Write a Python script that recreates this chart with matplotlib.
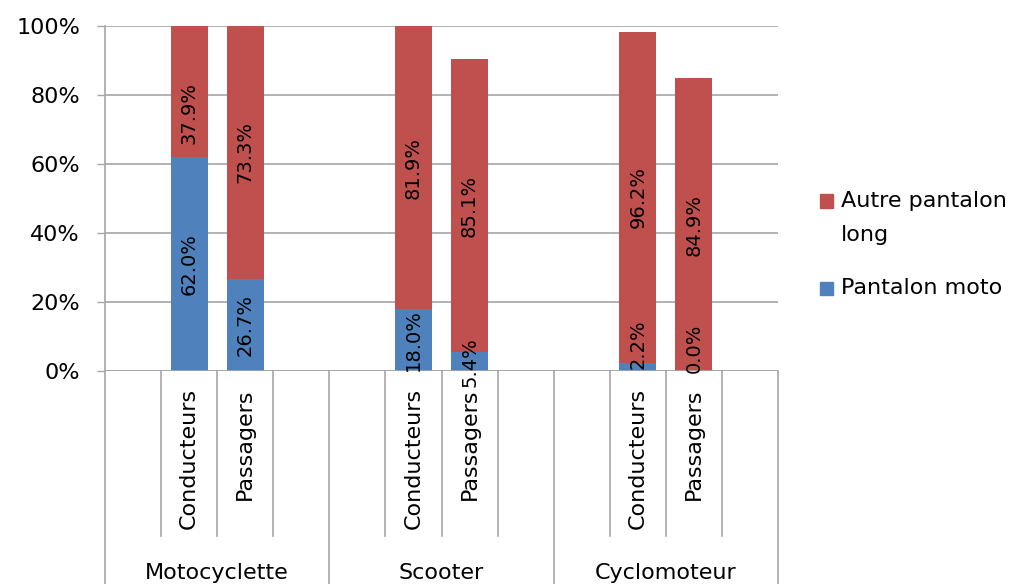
import matplotlib
matplotlib.use("Agg")
import matplotlib.pyplot as plt
from matplotlib.patches import Rectangle
from matplotlib.ticker import FuncFormatter
import matplotlib.transforms as mtransforms

# Vehicle groups and rider roles
groups = ["Motocyclette", "Scooter", "Cyclomoteur"]
roles = ["Conducteurs", "Passagers"]

# Share of riders (%) per group/role, in order:
# Moto-Conducteurs, Moto-Passagers, Scooter-Conducteurs, Scooter-Passagers,
# Cyclo-Conducteurs, Cyclo-Passagers
pantalon_moto = [62.0, 26.7, 18.0, 5.4, 2.2, 0.0]
autre_pantalon = [37.9, 73.3, 81.9, 85.1, 96.2, 84.9]

series_names = ["Autre pantalon\nlong", "Pantalon moto"]
yticks = [0, 20, 40, 60, 80, 100]

RED = "#C0504D"
BLUE = "#4F81BD"
GRID = "#A6A6A6"

W, H = 1016, 584
fig = plt.figure(figsize=(W / 100, H / 100), dpi=100)

# plot area in pixels
x0, x1, ytop, ybot = 105, 778, 26, 371
ax = fig.add_axes([x0 / W, 1 - ybot / H, (x1 - x0) / W, (ybot - ytop) / H])

slots_per_group = len(roles) + 2
n_slots = slots_per_group * len(groups)
ax.set_xlim(0, n_slots)
ax.set_ylim(0, 100)

positions = []
for g in range(len(groups)):
    for r in range(len(roles)):
        positions.append(g * slots_per_group + 1 + r + 0.5)

bar_w = 0.66
ax.bar(positions, pantalon_moto, width=bar_w, color=BLUE, zorder=3)
ax.bar(positions, autre_pantalon, width=bar_w, bottom=pantalon_moto,
       color=RED, zorder=3)

# value labels, a few nudged to keep them readable
nudge_moto = {4: 6.7, 5: 6.7}
nudge_autre = {0: -6.3}
for i, x in enumerate(positions):
    m, a = pantalon_moto[i], autre_pantalon[i]
    ax.text(x, m / 2 + nudge_moto.get(i, 0), f"{m:.1f}%", rotation=90,
            ha="center", va="center", fontsize=14, color="black",
            zorder=5, clip_on=False)
    ax.text(x, m + a / 2 + nudge_autre.get(i, 0), f"{a:.1f}%", rotation=90,
            ha="center", va="center", fontsize=14, color="black",
            zorder=5, clip_on=False)

# axes styling
ax.set_yticks(yticks)
ax.yaxis.set_major_formatter(FuncFormatter(lambda v, _: f"{v:.0f}%"))
ax.tick_params(axis="y", length=6, width=1, color=GRID, pad=12,
               labelsize=16)
ax.set_xticks([])
ax.grid(axis="y", color=GRID, linewidth=1.2, zorder=0)
for side in ["top", "right", "bottom", "left"]:
    ax.spines[side].set_visible(False)
ax.axhline(0, color=GRID, linewidth=1.2, zorder=4)

# multi-level category axis
trans = mtransforms.blended_transform_factory(ax.transData, ax.transAxes)
px = 1.0 / (ybot - ytop)
inner_bottom = -(536 - ybot) * px
for g in range(len(groups)):
    base = g * slots_per_group
    for k in range(1, slots_per_group):
        ax.plot([base + k, base + k], [0, inner_bottom], color=GRID,
                linewidth=1.2, transform=trans, clip_on=False)
for g in range(len(groups) + 1):
    xg = g * slots_per_group
    top = 1.0 if g == 0 else 0.0
    ax.plot([xg, xg], [top, -0.75], color=GRID, linewidth=1.2,
            transform=trans, clip_on=False)

for i, x in enumerate(positions):
    ax.text(x, -(388 - ybot) * px, roles[i % len(roles)], rotation=90,
            ha="center", va="top", fontsize=16, transform=trans)

for g, name in enumerate(groups):
    xc = g * slots_per_group + slots_per_group / 2
    ax.text(xc, -(579 - ybot) * px, name, ha="center", va="baseline",
            fontsize=16, transform=trans)

# legend
def fig_rect(xp, yp, wp, hp, color):
    fig.add_artist(Rectangle((xp / W, 1 - (yp + hp) / H), wp / W, hp / H,
                             transform=fig.transFigure, color=color))

legend_rows = [(RED, series_names[0], 201), (BLUE, series_names[1], 288)]
for color, label, yc in legend_rows:
    fig_rect(820, yc - 6.5, 13, 13, color)
    for j, line in enumerate(label.split("\n")):
        fig.text(841 / W, 1 - (yc + 34 * j) / H, line, ha="left",
                 va="center", fontsize=16)

fig.savefig("out.png", dpi=100)
